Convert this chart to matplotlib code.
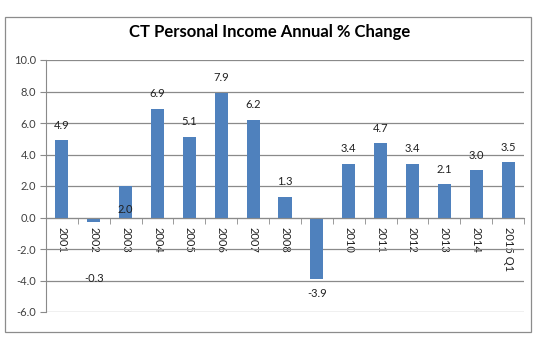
import matplotlib
matplotlib.use("Agg")
import matplotlib.pyplot as plt
from matplotlib.patches import Rectangle
import numpy as np

categories = ["2001", "2002", "2003", "2004", "2005", "2006", "2007", "2008",
              "2009", "2010", "2011", "2012", "2013", "2014", "2015 Q1"]
values = [4.9, -0.3, 2.0, 6.9, 5.1, 7.9, 6.2, 1.3, -3.9, 3.4, 4.7, 3.4, 2.1, 3.0, 3.5]
yticks = [-6.0, -4.0, -2.0, 0.0, 2.0, 4.0, 6.0, 8.0, 10.0]
title = "CT Personal Income Annual % Change"

# label placement overrides (data y of label center) mimicking the original
label_override = {1: -3.85, 2: 0.48, 8: -4.8}

plt.rcParams['font.family'] = ['Lato', 'DejaVu Sans']

fig = plt.figure(figsize=(5.40, 3.39), dpi=100)
fig.patch.set_facecolor("white")
fig.patches.append(Rectangle((5/540, 1 - 332/339), 526/540, 315/339,
                             transform=fig.transFigure, fill=False,
                             edgecolor="#8c8c8c", linewidth=0.9))

ax = fig.add_axes([46/540, 1 - 312/339, 478/540, 252/339])
x = np.arange(len(categories))
ax.bar(x, values, width=0.41, color="#4F81BD", zorder=3)

ax.set_ylim(-6, 10)
ax.set_xlim(-0.5, len(categories) - 0.5)
ax.set_yticks(yticks)
ax.set_yticklabels([f"{v:.1f}" for v in yticks], fontsize=8, color="#404040")
ax.grid(axis="y", color="#8a8a8a", linewidth=0.9, zorder=0)
ax.tick_params(axis="y", length=4, color="#8a8a8a", pad=3)

for s in ["top", "right"]:
    ax.spines[s].set_visible(False)
ax.spines["left"].set_color("#8a8a8a")
ax.spines["bottom"].set_position(("data", 0))
ax.spines["bottom"].set_color("#8a8a8a")
ax.spines["bottom"].set_zorder(4)

ax.set_xticks(x)
ax.set_xticklabels(categories, rotation=-90, fontsize=8, color="#202020",
                   va="top", ha="center")
ax.tick_params(axis="x", which="major", length=0, pad=7)
ax.set_xticks(np.arange(-0.5, len(categories), 1.0), minor=True)
ax.tick_params(axis="x", which="minor", length=4, color="#8a8a8a", direction="out")

for i, v in enumerate(values):
    if i in label_override:
        ax.text(i, label_override[i], f"{v:.1f}", ha="center", va="center",
                fontsize=8, color="#202020", zorder=5)
    else:
        ax.annotate(f"{v:.1f}", (i, v), xytext=(0, 7), textcoords="offset points",
                    ha="center", va="bottom", fontsize=8, color="#202020", zorder=5)

fig.text(0.5, 1 - 32/339, title, ha="center", va="center", fontsize=12,
         fontweight="bold", color="#000000")

fig.savefig("out.png", dpi=100)
